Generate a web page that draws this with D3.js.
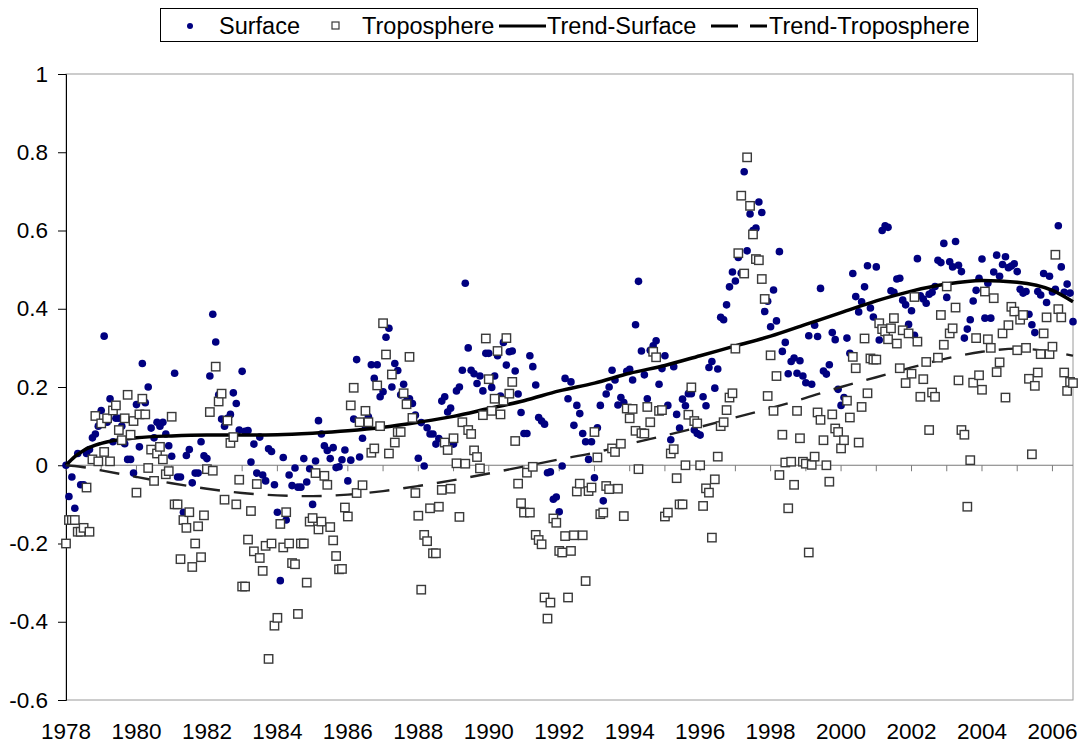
<!DOCTYPE html>
<html><head><meta charset="utf-8">
<script src="https://cdn.jsdelivr.net/npm/d3@7"></script>
<style>body{margin:0;background:#fff}svg{display:block}text{font-family:"Liberation Sans",Arial,sans-serif}</style>
</head><body><svg id="c" width="1081" height="746"></svg>
<script>
// Monthly anomalies, Jan 1978 .. Aug 2006 (one row per year)
const surface = [
0,-0.08,-0.03,-0.11,0.03,-0.05,-0.05,0.03,0.04,0.07,0.08,0.10,
0.14,0.33,0.11,0.17,0.06,0.12,0.12,0.10,0.055,0.015,0.015,-0.02,
0.155,0.047,0.26,0.16,0.2,0.095,0.07,0.11,0.1,0.11,0.08,0.05,
0.023,0.235,-0.03,-0.03,-0.12,0.025,0.04,-0.045,-0.02,-0.02,0.06,0.024,
0.017,0.228,0.386,0.315,0.18,0.118,0.1,0.12,0.13,0.185,0.158,0.09,
0.24,0.087,0.089,0.008,0.054,-0.02,0.072,-0.025,-0.04,0.042,0.035,-0.05,
-0.12,-0.295,0.02,-0.14,-0.025,-0.052,-0.007,-0.056,-0.056,0.017,-0.043,-0.009,
-0.1,0.011,0.114,0.08,0.05,0.038,0.017,0.045,-0.006,-0.004,0.014,0.039,
-0.04,0.013,0.118,0.27,0.021,0.069,0.1,0.124,0.257,0.222,0.257,0.175,
0.188,0.327,0.35,0.2,0.26,0.242,0.18,0.207,0.164,0.17,0.158,0.128,
0.018,0.109,-0.002,0.096,0.08,0.08,0.054,0.068,0.164,0.175,0.136,0.146,
0.054,0.19,0.2,0.243,0.465,0.3,0.243,0.234,0.209,0.228,0.19,0.286,
0.286,0.199,0.228,0.28,0.177,0.314,0.256,0.29,0.292,0.241,0.182,0.135,
0.081,0.081,0.28,0.252,0.205,0.122,0.113,0.105,-0.019,-0.017,-0.087,-0.081,
-0.119,-0.002,0.222,0.17,0.213,0.102,0.153,0.132,0.081,0.06,0.015,0.06,
-0.032,0.096,0.153,-0.091,0.182,0.2,0.243,0.218,0.154,0.173,0.16,0.24,
0.245,0.218,0.359,0.47,0.292,0.231,0.17,0.294,0.305,0.318,0.207,0.247,
0.28,0.153,0.065,0.252,0.13,0.095,0.169,0.152,0.183,0.183,0.09,0.081,
0.077,0.175,0.152,0.25,0.265,0.197,0.246,0.378,0.372,0.41,0.456,0.494,
0.471,0.531,0.491,0.75,0.548,0.642,0.6,0.606,0.673,0.646,0.393,0.419,
0.354,0.448,0.369,0.546,0.291,0.314,0.234,0.265,0.274,0.235,0.267,0.228,
0.211,0.331,0.207,0.358,0.329,0.452,0.241,0.233,0.257,0.339,0.321,0.194,
0.153,0.173,0.325,0.286,0.49,0.431,0.392,0.418,0.456,0.51,0.402,0.379,
0.507,0.32,0.6,0.612,0.608,0.446,0.442,0.476,0.478,0.422,0.41,0.36,
0.395,0.332,0.528,0.433,0.425,0.414,0.437,0.442,0.457,0.524,0.518,0.567,
0.429,0.52,0.507,0.572,0.511,0.495,0.325,0.348,0.372,0.42,0.447,0.478,
0.527,0.376,0.465,0.376,0.494,0.537,0.483,0.513,0.533,0.505,0.509,0.515,
0.495,0.45,0.44,0.444,0.386,0.359,0.339,0.444,0.435,0.49,0.416,0.483,
0.443,0.45,0.612,0.507,0.442,0.463,0.44,0.367
];
const troposphere = [
-0.2,-0.14,-0.14,-0.14,-0.17,-0.17,-0.16,-0.057,-0.17,0.015,0.126,0.01,
0.107,0.034,0.12,0.01,0.14,0.153,0.09,0.064,0.12,0.18,0.078,0.113,
-0.07,0.13,0.17,0.13,-0.007,0.04,-0.04,0.03,0.047,0.015,-0.023,-0.015,
0.124,-0.1,-0.1,-0.24,-0.14,-0.16,-0.12,-0.26,-0.2,-0.156,-0.235,-0.128,
-0.01,0.136,-0.014,0.252,0.163,0.183,-0.088,0.114,0.057,0.072,-0.1,-0.037,
-0.31,-0.31,-0.19,-0.117,-0.22,-0.048,-0.237,-0.27,-0.206,-0.495,-0.2,-0.41,
-0.39,-0.15,-0.21,-0.12,-0.2,-0.25,-0.253,-0.38,-0.2,-0.2,-0.3,-0.144,
-0.135,-0.02,-0.164,-0.144,-0.027,-0.05,-0.158,-0.192,-0.232,-0.266,-0.265,-0.108,
-0.131,0.153,0.198,-0.071,0.11,-0.051,0.139,0.11,0.032,0.043,0.204,0.1,
0.363,0.283,0.03,0.232,0.058,0.085,0.085,0.184,0.156,0.277,0.121,-0.071,
-0.129,-0.318,-0.178,-0.194,-0.11,-0.225,-0.225,-0.106,-0.063,0.058,0.039,-0.06,
0.069,0.005,-0.132,0.11,0.004,0.09,0.08,0.038,0.021,-0.008,0.128,0.324,
0.22,0.139,0.17,0.292,0.13,0.165,0.325,0.183,0.213,0.062,-0.047,-0.097,
-0.121,-0.019,-0.121,-0.004,-0.178,-0.191,-0.202,-0.338,-0.392,-0.351,-0.136,-0.147,
-0.219,-0.223,-0.181,-0.338,-0.219,-0.179,-0.067,-0.047,-0.179,-0.296,-0.066,-0.057,
0.085,0.02,-0.125,-0.121,-0.053,-0.061,0.043,0.034,-0.06,0.055,-0.13,0.145,
0.12,0.144,0.088,-0.01,0.082,0.081,0.149,0.11,0.29,0.276,0.139,0.141,
-0.131,-0.121,0.03,0.041,-0.033,-0.1,-0.1,0.0,0.129,0.199,0.113,0.107,
0.0,-0.104,-0.059,-0.07,-0.185,-0.036,0.022,0.1,0.11,0.141,0.173,0.184,
0.298,0.542,0.689,0.49,0.787,0.663,0.59,0.527,0.524,0.476,0.425,0.177,
0.281,0.139,0.228,-0.025,0.078,0.007,-0.11,0.009,-0.05,0.139,0.069,0.009,
0.004,-0.223,0.001,0.022,0.135,0.116,0.064,0.0,-0.042,0.13,0.094,0.085,
0.043,0.064,0.165,0.122,0.277,0.248,0.058,0.149,0.324,0.184,0.273,0.27,
0.27,0.363,0.348,0.342,0.322,0.35,0.376,0.311,0.248,0.345,0.21,0.337,
0.234,0.43,0.316,0.175,0.22,0.264,0.09,0.186,0.175,0.275,0.384,0.308,
0.457,0.337,0.35,0.403,0.217,0.09,0.078,-0.106,0.013,0.211,0.325,0.23,
0.193,0.444,0.322,0.3,0.427,0.238,0.263,0.337,0.173,0.358,0.405,0.393,
0.294,0.372,0.384,0.3,0.221,0.028,0.203,0.237,0.284,0.337,0.378,0.284,
0.303,0.538,0.399,0.378,0.237,0.19,0.213,0.21
];
// Trend curves (month index -> value)
const trendMonths = [0,3,6,12,24,36,48,60,72,84,96,108,120,132,144,156,168,180,192,204,216,228,240,252,264,276,288,300,312,324,336,343];
const trendSurface = [0,0.022,0.038,0.056,0.07,0.075,0.077,0.077,0.078,0.082,0.088,0.097,0.11,0.125,0.145,0.165,0.19,0.21,0.235,0.255,0.28,0.305,0.33,0.36,0.39,0.42,0.445,0.463,0.472,0.468,0.447,0.418];
const trendTropo = [0,-0.002,-0.005,-0.013,-0.03,-0.046,-0.06,-0.071,-0.077,-0.079,-0.075,-0.066,-0.053,-0.038,-0.021,-0.003,0.015,0.032,0.055,0.076,0.098,0.122,0.146,0.172,0.2,0.225,0.25,0.273,0.29,0.298,0.29,0.28];
const yearTicks = d3.range(1978, 2007);
const yearLabels = d3.range(1978, 2007, 2);
const yTicks = [-0.6,-0.4,-0.2,0,0.2,0.4,0.6,0.8,1];

const svg = d3.select("#c");
const x = d3.scaleLinear().domain([0, 343]).range([66, 1073]);
const xm = yr => x((yr - 1978) * 12);
const y = d3.scaleLinear().domain([-0.6, 1]).range([700, 74]);

// plot border
svg.append("rect").attr("x",66).attr("y",74).attr("width",1073-66).attr("height",700-74)
  .attr("fill","none").attr("stroke","#9a9a9a").attr("stroke-width",1);

// y axis
const ya = svg.append("g").attr("transform","translate(66,0)")
  .call(d3.axisLeft(y).tickValues(yTicks).tickSize(8).tickPadding(10).tickFormat(d => String(+d.toFixed(1))));
ya.select(".domain").attr("stroke","#000");
ya.selectAll(".tick line").attr("stroke","#000");
ya.selectAll("text").attr("font-size",22.5).attr("fill","#000").attr("font-family","Liberation Sans, Arial, sans-serif");

// zero axis line with yearly ticks
svg.append("line").attr("x1",66).attr("x2",1073).attr("y1",y(0)).attr("y2",y(0)).attr("stroke","#7a7a7a").attr("stroke-width",1.2);
svg.append("g").selectAll("line").data(yearTicks).join("line")
  .attr("x1",d=>xm(d)).attr("x2",d=>xm(d)).attr("y1",y(0)).attr("y2",y(0)+6).attr("stroke","#7a7a7a");
svg.append("g").selectAll("text").data(yearLabels).join("text")
  .attr("x",d=>xm(d)).attr("y",739).attr("text-anchor","middle").attr("font-size",22.5).text(d=>d);

// surface points
svg.append("g").selectAll("circle").data(surface).join("circle")
  .attr("cx",(d,i)=>x(i)).attr("cy",d=>y(d)).attr("r",3.8).attr("fill","#000080");

// trend lines
const line = d3.line().x(d=>x(d[0])).y(d=>y(d[1])).curve(d3.curveMonotoneX);
svg.append("path").attr("d", line(trendMonths.map((m,i)=>[m,trendSurface[i]])))
  .attr("fill","none").attr("stroke","#000").attr("stroke-width",3.5);
svg.append("path").attr("d", line(trendMonths.map((m,i)=>[m,trendTropo[i]])))
  .attr("fill","none").attr("stroke","#222").attr("stroke-width",2.4).attr("stroke-dasharray","20,14");

// troposphere squares
svg.append("g").selectAll("rect").data(troposphere).join("rect")
  .attr("x",(d,i)=>x(i)-4.2).attr("y",d=>y(d)-4.2).attr("width",8.4).attr("height",8.4)
  .attr("fill","#fff").attr("stroke","#3a3a3a").attr("stroke-width",1.4);

// legend
const lg = svg.append("g");
lg.append("rect").attr("x",160.5).attr("y",8.5).attr("width",817).attr("height",33).attr("fill","#fff").attr("stroke","#000");
lg.append("circle").attr("cx",190).attr("cy",26).attr("r",3).attr("fill","#000080");
lg.append("text").attr("x",219).attr("y",34).attr("font-size",23.5).text("Surface");
lg.append("rect").attr("x",332).attr("y",22).attr("width",7).attr("height",7).attr("fill","#fff").attr("stroke","#3a3a3a").attr("stroke-width",1.2);
lg.append("text").attr("x",362).attr("y",34).attr("font-size",23.5).text("Troposphere");
lg.append("line").attr("x1",499).attr("x2",546).attr("y1",26).attr("y2",26).attr("stroke","#000").attr("stroke-width",3);
lg.append("text").attr("x",547).attr("y",34).attr("font-size",23.5).text("Trend-Surface");
lg.append("line").attr("x1",711).attr("x2",767).attr("y1",26).attr("y2",26).attr("stroke","#000").attr("stroke-width",3).attr("stroke-dasharray","27,12");
lg.append("text").attr("x",769).attr("y",34).attr("font-size",23.5).text("Trend-Troposphere");
</script></body></html>
